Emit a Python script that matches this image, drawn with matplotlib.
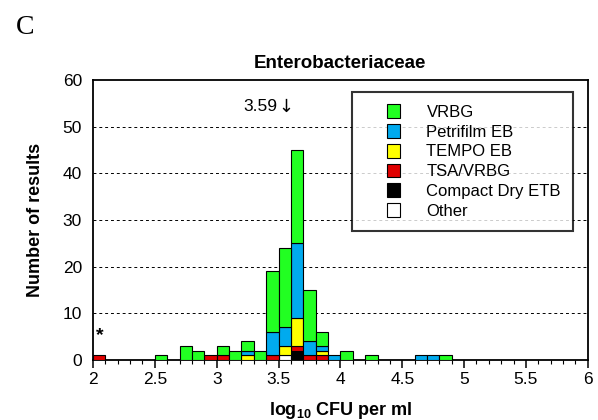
import numpy as np
import matplotlib
matplotlib.use("Agg")
import matplotlib.pyplot as plt
import matplotlib.patches as mpatches
from matplotlib.legend_handler import HandlerPatch

plt.rcParams['font.family'] = ['Liberation Sans', 'DejaVu Sans']
plt.rcParams['mathtext.fontset'] = 'custom'
plt.rcParams['mathtext.rm'] = 'Liberation Sans'
plt.rcParams['mathtext.bf'] = 'Liberation Sans:bold'

# left edges of the 0.1 log bins, 2.0 .. 5.9
bin_left = np.round(np.arange(2.0, 6.0, 0.1), 1)
bin_w = 0.1

# counts per bin (40 bins)
other     = [0,0,0,0,0, 0,0,0,0,0, 0,0,0,0,0, 1,0,0,0,0, 0,0,0,0,0, 0,0,0,0,0, 0,0,0,0,0, 0,0,0,0,0]
compact   = [0,0,0,0,0, 0,0,0,0,0, 0,0,0,0,0, 0,2,0,0,0, 0,0,0,0,0, 0,0,0,0,0, 0,0,0,0,0, 0,0,0,0,0]
tsa_vrbg  = [1,0,0,0,0, 0,0,0,0,1, 1,0,0,0,1, 0,1,1,1,0, 0,0,0,0,0, 0,0,0,0,0, 0,0,0,0,0, 0,0,0,0,0]
tempo     = [0,0,0,0,0, 0,0,0,0,0, 0,0,1,0,0, 2,6,0,1,0, 0,0,0,0,0, 0,0,0,0,0, 0,0,0,0,0, 0,0,0,0,0]
petrifilm = [0,0,0,0,0, 0,0,0,0,0, 0,0,1,0,5, 4,16,3,1,1, 0,0,0,0,0, 0,1,1,0,0, 0,0,0,0,0, 0,0,0,0,0]
vrbg      = [0,0,0,0,0, 1,0,3,2,0, 2,2,2,2,13, 17,20,11,3,0, 2,0,1,0,0, 0,0,0,1,0, 0,0,0,0,0, 0,0,0,0,0]

series = [("Other", other, "white"),
          ("Compact Dry ETB", compact, "black"),
          ("TSA/VRBG", tsa_vrbg, "#e00000"),
          ("TEMPO EB", tempo, "#ffff00"),
          ("Petrifilm EB", petrifilm, "#00aaee"),
          ("VRBG", vrbg, "#22ff22")]

median_txt = "3.59"

fig = plt.figure(figsize=(5.98, 4.2), dpi=100)
ax = fig.add_axes([0.1555, 0.143, 0.8275, 0.6665])

bottom = np.zeros(len(bin_left))
handles = []
for name, vals, col in series:
    vals = np.array(vals, dtype=float)
    m = vals > 0
    ax.bar(bin_left[m], vals[m], width=bin_w, bottom=bottom[m], align='edge',
           color=col, edgecolor='black', linewidth=0.8, zorder=3)
    bottom += vals
    handles.append(mpatches.Patch(facecolor=col, edgecolor='black', linewidth=0.8, label=name))

ax.set_xlim(2, 6)
ax.set_ylim(0, 60)
ax.set_xticks(np.arange(2, 6.01, 0.5))
ax.set_xticklabels(["2", "2.5", "3", "3.5", "4", "4.5", "5", "5.5", "6"])
ax.set_xticks(np.arange(2, 6.01, 0.1), minor=True)
ax.set_yticks(np.arange(0, 61, 10))
ax.tick_params(axis='x', which='major', direction='out', length=6, width=1.1, labelsize=12.5, pad=3)
ax.tick_params(axis='x', which='minor', direction='out', length=3, width=0.8)
ax.tick_params(axis='y', length=0, labelsize=12.5, pad=8)
for s in ax.spines.values():
    s.set_linewidth(1.3)
for yv in range(10, 60, 10):
    ax.axhline(yv, color='black', linestyle=(0, (3, 3)), linewidth=0.7, zorder=1)

ax.set_title("Enterobacteriaceae", fontsize=13.5, fontweight='bold', pad=9)
ax.set_ylabel("Number of results", fontsize=13, fontweight='bold')
ax.set_xlabel(r"$\mathbf{log_{10}}$ CFU per ml", fontsize=13, fontweight='bold')
ax.yaxis.set_label_coords(-0.099, 0.5)
ax.xaxis.set_label_coords(0.5, -0.142)

ax.text(2.055, 5.2, "*", fontsize=14, fontweight='bold', ha='center', va='center')
ax.text(3.35, 54.3, median_txt, fontsize=12.5, ha='center', va='center')
ax.text(3.558, 54.3, "\u2193", fontsize=13, family='DejaVu Sans', ha='center', va='center')
fig.text(0.026, 0.965, "C", fontsize=20, family='Liberation Serif', ha='left', va='top')


def square(legend, orig_handle, xdescent, ydescent, width, height, fontsize):
    return mpatches.Rectangle((width - height - xdescent, -ydescent), height, height)


leg = ax.legend(handles=handles[::-1], loc='upper right', bbox_to_anchor=(0.970, 0.957),
                borderaxespad=0, fontsize=12, frameon=True, fancybox=False,
                handlelength=2.2, handleheight=0.9, handletextpad=1.56,
                borderpad=0.72, labelspacing=0.25,
                handler_map={mpatches.Patch: HandlerPatch(patch_func=square)})
leg.get_frame().set_edgecolor('black')
leg.get_frame().set_linewidth(1.5)
leg.set_zorder(5)

fig.savefig("out.png", dpi=100)
